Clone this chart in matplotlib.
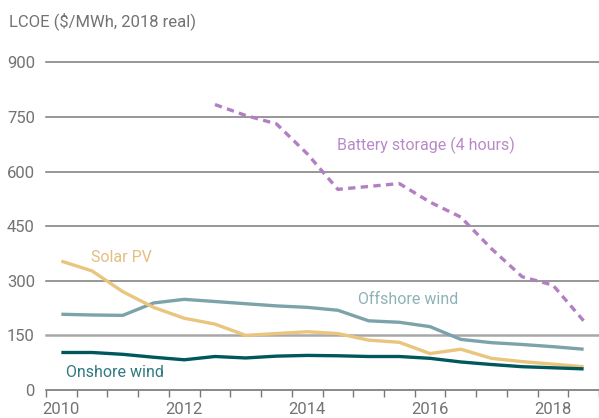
import numpy as np
import matplotlib
matplotlib.use("Agg")
import matplotlib.pyplot as plt

plt.rcParams['font.family'] = ['Roboto', 'DejaVu Sans']

# half-year periods, 1H 2010 .. 2H 2018
periods = np.arange(18)
year_labels = ["2010", "2012", "2014", "2016", "2018"]
year_pos = [0, 4, 8, 12, 16]

solar_pv = [354, 327, 270, 227, 197, 181, 150, 155, 160, 155, 137, 131, 100, 112, 87, 78, 71, 64]
offshore_wind = [208, 206, 205, 239, 249, 243, 237, 231, 227, 219, 190, 186, 174, 139, 130, 125, 119, 112]
onshore_wind = [103, 103, 98, 90, 83, 92, 88, 93, 95, 94, 92, 92, 87, 77, 70, 64, 61, 58]
battery_x = [5, 6, 7, 8, 9, 10, 11, 12, 13, 14, 15, 16, 17]
battery = [784, 754, 731, 649, 551, 559, 567, 516, 475, 388, 311, 288, 190]

yticks = [0, 150, 300, 450, 600, 750, 900]

c_solar = "#E9C57E"
c_off = "#7CA3A9"
c_on = "#00575C"
c_batt = "#B37FC3"
c_text = "#737373"

fig = plt.figure(figsize=(5.99, 4.18), dpi=100)
ax = fig.add_axes([46/599, 28/418, 1 - 46/599, (390-62.3)/418])

for v in yticks[1:]:
    if v == 150:
        ax.axhline(v, color="#A8A8A8", lw=1.8, zorder=1, clip_on=False)
    else:
        ax.axhline(v, color="#7A7A7A", lw=1.1, zorder=1, clip_on=False)

ax.plot(periods, offshore_wind, color=c_off, lw=2.4, zorder=3, solid_capstyle="butt")
ax.plot(periods, solar_pv, color=c_solar, lw=2.4, zorder=4, solid_capstyle="butt")
ax.plot(periods, onshore_wind, color=c_on, lw=2.4, zorder=5, solid_capstyle="butt")
ax.plot(battery_x, battery, color=c_batt, lw=2.4, ls=(0, (2.2, 1.6)), zorder=3)

ax.text(11.86, 672, "Battery storage (4 hours)", color="#B98AC8", fontsize=11.5,
        ha="center", va="center")
ax.text(11.29, 248, "Offshore wind", color="#8DB2B7", fontsize=11.5, ha="center", va="center")
ax.text(1.94, 365, "Solar PV", color="#E2BE80", fontsize=11.5, ha="center", va="center")
ax.text(1.74, 47, "Onshore wind", color="#2E7A80", fontsize=11.5, ha="center", va="center")

ax.set_xlim(-0.5, 17.5)
ax.set_ylim(0, 900)

for s in ["top", "right", "left"]:
    ax.spines[s].set_visible(False)
ax.spines["bottom"].set_color("#777777")
ax.spines["bottom"].set_linewidth(1.2)

ax.set_yticks(yticks)
ax.set_yticklabels([str(v) for v in yticks])
ax.tick_params(axis="y", length=0, pad=8, labelsize=12, labelcolor=c_text)

ax.set_xticks(np.arange(-0.5, 18, 1.0))
ax.set_xticklabels([])
ax.tick_params(axis="x", which="major", length=5, width=1, color="#777777", direction="out")
ax.set_xticks(year_pos, minor=True)
ax.set_xticklabels(year_labels, minor=True)
ax.tick_params(axis="x", which="minor", length=0, pad=9, labelsize=12, labelcolor=c_text)

fig.text(9/599, 1 - 20.7/418, "LCOE ($/MWh, 2018 real)", fontsize=12, color=c_text,
         ha="left", va="center")

fig.savefig("out.png", dpi=100)
